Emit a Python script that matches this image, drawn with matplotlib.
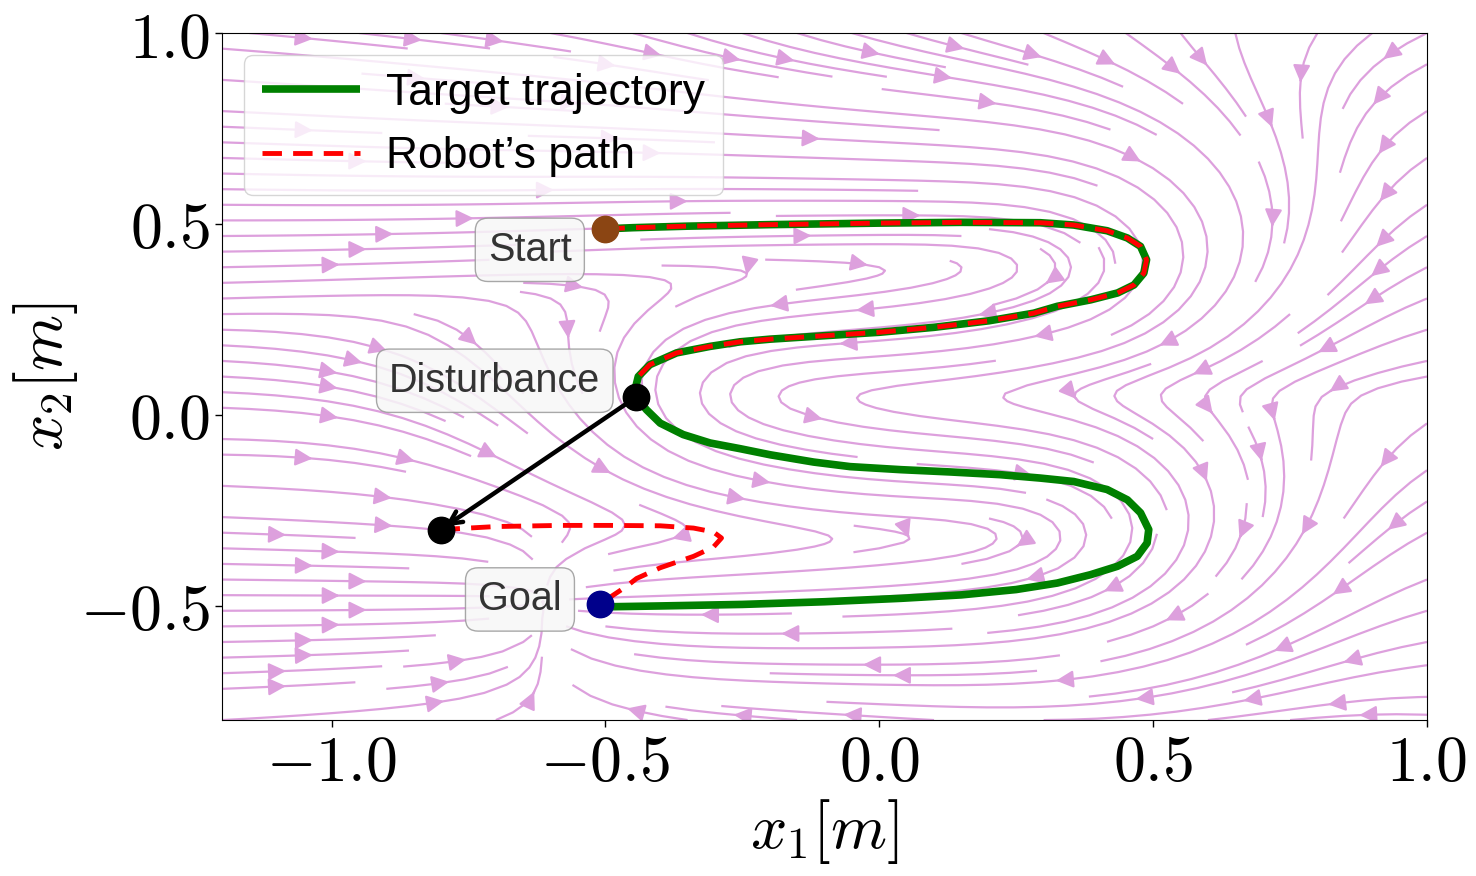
import numpy as np
import matplotlib
matplotlib.use("Agg")
import matplotlib.pyplot as plt

plt.rcParams['mathtext.fontset'] = 'cm'

# ---- data ----
target_x = [-0.500, -0.450, -0.350, -0.200, 0.000, 0.150, 0.294, 0.355, 0.416, 0.453, 0.477,
            0.488, 0.483, 0.465, 0.435, 0.386, 0.325, 0.282, 0.200, 0.100, 0.000, -0.100,
            -0.199, -0.254, -0.309, -0.370, -0.419, -0.440, -0.446, -0.444,
            -0.425, -0.400, -0.358, -0.309, -0.254, -0.199, -0.120, -0.053, 0.040, 0.130,
            0.220, 0.294, 0.355, 0.416, 0.453, 0.477, 0.492, 0.489, 0.471, 0.435, 0.386,
            0.325, 0.250, 0.150, 0.040, -0.100, -0.250, -0.400, -0.486, -0.510]
target_y = [0.487, 0.490, 0.494, 0.498, 0.502, 0.504, 0.503, 0.497, 0.482, 0.463, 0.441,
            0.406, 0.371, 0.340, 0.319, 0.301, 0.284, 0.266, 0.246, 0.229, 0.216, 0.207,
            0.198, 0.191, 0.179, 0.162, 0.131, 0.100, 0.065, 0.046,
            0.013, -0.022, -0.052, -0.074, -0.089, -0.105, -0.124, -0.136, -0.144, -0.150,
            -0.157, -0.166, -0.175, -0.196, -0.223, -0.257, -0.301, -0.336, -0.371, -0.397,
            -0.419, -0.441, -0.458, -0.472, -0.481, -0.490, -0.497, -0.501, -0.503, -0.500]
disturb_index = 29  # target point where the disturbance occurs

after_x = [-0.801, -0.700, -0.583, -0.492, -0.400, -0.339, -0.303, -0.288, -0.303, -0.339,
           -0.400, -0.443, -0.461, -0.510]
after_y = [-0.301, -0.293, -0.290, -0.290, -0.291, -0.297, -0.307, -0.323, -0.347, -0.371,
           -0.401, -0.429, -0.449, -0.496]

start_pt = (-0.500, 0.487)
goal_pt = (-0.510, -0.497)
disturb_pt = (-0.444, 0.046)
disturbed_pt = (-0.801, -0.301)

labels_txt = ["Start", "Disturbance", "Goal"]
labels_pos = [(-0.638, 0.432), (-0.702, 0.089), (-0.656, -0.484)]

xticks = [-1.0, -0.5, 0.0, 0.5, 1.0]
yticks = [-0.5, 0.0, 0.5, 1.0]

# ---- vector field built from the target trajectory ----
T = np.column_stack([target_x, target_y])
dense = []
for i in range(len(T) - 1):
    for s in np.linspace(0, 1, 6, endpoint=False):
        dense.append(T[i] * (1 - s) + T[i + 1] * s)
dense.append(T[-1])
D = np.array(dense)
tang = np.gradient(D, axis=0)
nrm = np.linalg.norm(tang, axis=1, keepdims=True)
tang = tang / np.maximum(nrm, 1e-9)
n_end = 14
ramp = np.ones(len(D))
ramp[-n_end:] = np.linspace(1, 0.0, n_end)
tang = tang * ramp[:, None]

gx = np.linspace(-1.2, 1.0, 160)
gy = np.linspace(-0.8, 1.0, 140)
X, Y = np.meshgrid(gx, gy)
P = np.column_stack([X.ravel(), Y.ravel()])
d2 = ((P[:, None, :] - D[None, :, :]) ** 2).sum(-1)
sig = 0.1
w = np.exp(-(d2 - d2.min(axis=1, keepdims=True)) / (2 * sig ** 2))
w /= w.sum(axis=1, keepdims=True)
dmin2 = d2.min(axis=1)[:, None]
tan_gain = np.exp(-dmin2 / (2 * 0.35 ** 2))
delta = w @ D - P
kx = np.where(delta[:, 0] > 0, 2.0, 0.8)
V = tan_gain * (w @ tang)
V[:, 0] += kx * delta[:, 0]
V[:, 1] += 0.35 * delta[:, 1]
g = np.array(goal_pt)
dg = P - g
V += -1.0 * dg * np.exp(-(dg ** 2).sum(1) / (2 * 0.15 ** 2))[:, None]
U = V[:, 0].reshape(X.shape)
W = V[:, 1].reshape(X.shape)

# ---- figure ----
fig = plt.figure(figsize=(14.76, 8.76), dpi=100)
ax = fig.add_axes([0.1504, 0.178, 0.8164, 0.7843])

ax.streamplot(X, Y, U, W, color='plum', density=1.5, linewidth=1.6,
              arrowsize=2.6, arrowstyle='-|>', zorder=1)

ax.plot(target_x, target_y, color='green', lw=5.5, zorder=3, label='Target trajectory',
        solid_capstyle='butt', solid_joinstyle='round')
robot_x = list(target_x[:disturb_index + 1])
robot_y = list(target_y[:disturb_index + 1])
ax.plot(robot_x, robot_y, color='red', lw=3.5, ls='--', dashes=(4, 2.3), zorder=4,
        label='Robot’s path')
ax.plot(after_x, after_y, color='red', lw=3.5, ls='--', dashes=(4, 2.3), zorder=4)

ax.annotate('', xy=disturbed_pt, xytext=disturb_pt,
            arrowprops=dict(arrowstyle='->,head_length=0.9,head_width=0.45', color='black',
                            lw=3.2, shrinkA=0, shrinkB=4), zorder=5)

ax.plot(*start_pt, 'o', color='#8B4513', ms=19, zorder=6)
ax.plot(*goal_pt, 'o', color='#00008B', ms=19, zorder=6)
ax.plot(*disturb_pt, 'o', color='black', ms=19, zorder=6)
ax.plot(*disturbed_pt, 'o', color='black', ms=19, zorder=6)

for txt, (tx, ty) in zip(labels_txt, labels_pos):
    ax.text(tx, ty, txt, fontsize=28.5, family='Liberation Sans', color='#333333',
            ha='center', va='center', zorder=7,
            bbox=dict(boxstyle='round,pad=0.32', facecolor='#f7f7f7', edgecolor='#999999',
                      alpha=0.85, lw=1))

ax.set_xlim(-1.2, 1.0)
ax.set_ylim(-0.8, 1.0)
ax.set_xticks(xticks)
ax.set_xticklabels([f'${v:.1f}$' for v in xticks])
ax.set_yticks(yticks)
ax.set_yticklabels([f'${v:.1f}$' for v in yticks])
ax.tick_params(labelsize=46, length=5, width=1)
ax.set_xlabel(r'$x_1[m]$', fontsize=46, labelpad=2)
ax.set_ylabel(r'$x_2[m]$', fontsize=46, labelpad=0)

leg = ax.legend(loc='upper left', prop={'family': 'Liberation Sans', 'size': 32},
                handlelength=2.2, handletextpad=0.6, framealpha=0.8, edgecolor='#cccccc',
                borderaxespad=0.5, labelspacing=0.5)
leg.set_zorder(8)

fig.savefig('out.png', dpi=100)
